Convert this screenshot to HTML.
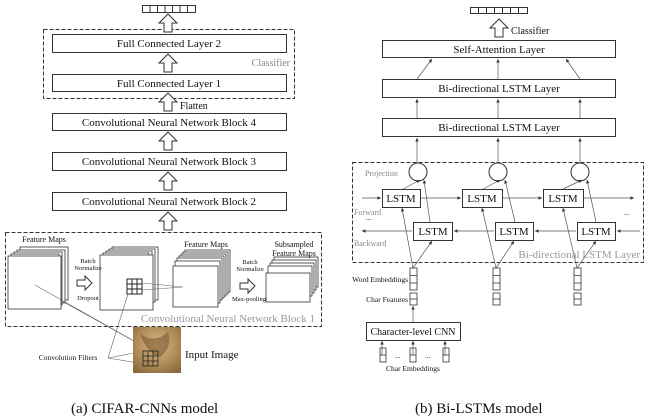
<!DOCTYPE html>
<html><head><meta charset="utf-8"><style>
html,body{margin:0;padding:0;background:#fff;}
svg{display:block;font-family:"Liberation Serif",serif;}
</style></head><body>
<svg width="650" height="420" viewBox="0 0 650 420" xmlns="http://www.w3.org/2000/svg">
<defs>
<marker id="ah" markerWidth="6" markerHeight="6" refX="5" refY="3" orient="auto"><path d="M0,0.5 L5,3 L0,5.5z" fill="#333"/></marker>
<g id="hup"><path d="M-4,9 L-4,0 L-9,0 L0,-9 L9,0 L4,0 L4,9z" fill="#fff" stroke="#333" stroke-width="1"/></g>
<g id="hright"><path d="M-8,-3 L0,-3 L0,-7 L7,0 L0,7 L0,3 L-8,3z" fill="#fff" stroke="#333" stroke-width="1"/></g>
<radialGradient id="img" cx="50%" cy="40%" r="70%"><stop offset="0" stop-color="#d8b88a"/><stop offset="0.6" stop-color="#b08c58"/><stop offset="1" stop-color="#8a6a3a"/></radialGradient>
</defs>
<g fill="none" stroke="#333" stroke-width="1">
<!-- LEFT -->
<g>
<rect x="142.5" y="5.5" width="53" height="7"/>
<path d="M150,5.5v7M157.5,5.5v7M165,5.5v7M172.5,5.5v7M180,5.5v7M187.5,5.5v7"/>
</g>
<rect x="43.5" y="29.5" width="251" height="69" stroke-dasharray="4,2"/>
<rect x="52.5" y="34.5" width="234" height="18"/>
<rect x="52.5" y="74.5" width="234" height="17"/>
<rect x="52.5" y="113.5" width="234" height="17"/>
<rect x="52.5" y="152.5" width="234" height="18"/>
<rect x="52.5" y="192.5" width="234" height="18"/>
<rect x="5.5" y="232.5" width="316" height="94" stroke-dasharray="4,2"/>
</g>
<use href="#hup" x="168" y="23"/>
<use href="#hup" x="168" y="63"/>
<use href="#hup" x="168" y="102"/>
<use href="#hup" x="168" y="141"/>
<use href="#hup" x="168" y="181"/>
<use href="#hup" x="168" y="221"/>
<g font-size="11" fill="#111" text-anchor="middle">
<text x="169" y="47">Full Connected Layer 2</text>
<text x="169" y="87">Full Connected Layer 1</text>
<text x="169" y="126">Convolutional Neural Network Block 4</text>
<text x="169" y="165">Convolutional Neural Network Block 3</text>
<text x="169" y="205">Convolutional Neural Network Block 2</text>
</g>
<text x="290" y="66" font-size="10" fill="#888" text-anchor="end">Classifier</text>
<text x="180" y="109" font-size="10" fill="#111">Flatten</text>
<!-- stacks -->
<g fill="#fff" stroke="#333" stroke-width="0.8">
<rect x="20" y="247" width="48" height="53"/><rect x="17" y="250" width="48" height="53"/><rect x="14" y="252" width="48" height="53"/><rect x="11" y="254" width="48" height="53"/>
<rect x="8" y="256" width="53" height="53"/>
<rect x="112" y="247" width="46" height="53"/><rect x="109" y="249" width="46" height="53"/><rect x="106" y="251" width="46" height="53"/><rect x="103" y="253" width="46" height="53"/>
<rect x="100" y="255" width="53" height="55"/>
<rect x="185" y="250" width="45" height="42"/><rect x="183" y="252" width="45" height="42"/><rect x="181" y="254" width="45" height="42"/><rect x="179" y="256" width="45" height="42"/><rect x="177" y="258" width="45" height="42"/><rect x="175" y="261" width="45" height="42"/><rect x="173" y="266" width="45" height="41"/>
<rect x="274" y="257" width="44" height="30"/><rect x="272" y="260" width="44" height="30"/><rect x="270" y="263" width="44" height="30"/><rect x="268" y="266" width="44" height="30"/><rect x="266" y="273" width="44" height="29"/>
</g>
<g stroke="#222" stroke-width="1" fill="none">
<rect x="127" y="279" width="15" height="15"/><path d="M132,279v15M137,279v15M127,284h15M127,289h15"/>
</g>
<g stroke="#666" stroke-width="0.6" fill="none">
<path d="M142,283 L183,287 M142,290 L183,287"/>
<path d="M35,285 L150,350 M60,300 L150,350 M108,358 L150,350 M108,358 L128,294 M108,358 L150,365"/>
</g>
<use href="#hright" x="85" y="283"/>
<use href="#hright" x="248" y="286"/>
<g font-size="8" fill="#111" text-anchor="middle">
<text x="44" y="242">Feature Maps</text>
<text x="88" y="263" font-size="6.5">Batch</text><text x="88" y="270" font-size="6.5">Normalize</text>
<text x="88" y="300" font-size="6.5">Dropout</text>
<text x="206" y="247">Feature Maps</text>
<text x="250" y="264" font-size="6.5">Batch</text><text x="250" y="271" font-size="6.5">Normalize</text>
<text x="249" y="301" font-size="6.5">Max-pooling</text>
<text x="294" y="247">Subsampled</text><text x="294" y="256">Feature Maps</text>
<text x="68" y="360" font-size="7.5">Convolution Filters</text>
</g>
<text x="315" y="322" font-size="11" fill="#999" text-anchor="end">Convolutional Neural Network Block 1</text>
<rect x="133" y="327" width="48" height="46" fill="url(#img)"/>
<path d="M140,334 q15,10 28,-2 q5,15 -8,25 q-12,-2 -20,-23z" fill="#7a5a30" opacity="0.6"/>
<g stroke="#222" stroke-width="0.8" fill="none"><rect x="143" y="351" width="15" height="15"/><path d="M148,351v15M153,351v15M143,356h15M143,361h15"/></g>
<text x="185" y="358" font-size="11" fill="#111">Input Image</text>
<!-- RIGHT -->
<g fill="none" stroke="#333" stroke-width="1">
<rect x="470.5" y="7.5" width="57" height="6"/>
<path d="M478.5,7.5v6M486.5,7.5v6M494.5,7.5v6M502.5,7.5v6M510.5,7.5v6M518.5,7.5v6"/>
<rect x="382.5" y="40.5" width="233" height="17"/>
<rect x="382.5" y="79.5" width="233" height="18"/>
<rect x="382.5" y="118.5" width="233" height="18"/>
<rect x="352.5" y="162.5" width="291" height="100" stroke-dasharray="4,2"/>
<circle cx="418" cy="172" r="9"/><circle cx="498" cy="172" r="9"/><circle cx="580" cy="172" r="9"/>
<rect x="382.5" y="189.5" width="38" height="18"/><rect x="462.5" y="189.5" width="40" height="18"/><rect x="543.5" y="189.5" width="40" height="18"/>
<rect x="413.5" y="222.5" width="39" height="18"/><rect x="495.5" y="222.5" width="38" height="18"/><rect x="577.5" y="222.5" width="38" height="18"/>
<rect x="366.5" y="322.5" width="94" height="18"/>
</g>
<use href="#hup" x="499" y="28"/>
<g stroke="#555" stroke-width="0.7" fill="none" marker-end="url(#ah)">
<path d="M417,79 L432,59"/><path d="M498,79 V59"/><path d="M580,79 L566,59"/>
<path d="M417,118 V99"/><path d="M498,118 V99"/><path d="M580,118 V99"/>
<path d="M417,163 V138"/><path d="M498,163 V138"/><path d="M580,163 V138"/>
<path d="M362,198 H381"/><path d="M421,198 H461"/><path d="M503,198 H542"/><path d="M584,198 H634"/>
<path d="M640,231 H617"/><path d="M576,231 H535"/><path d="M494,231 H454"/><path d="M412,231 H362"/>
<path d="M403,189 L420,180"/><path d="M430,222 L424,180"/>
<path d="M483,189 L500,180"/><path d="M515,222 L505,180"/>
<path d="M563,189 L582,180"/><path d="M596,222 L587,180"/>
<path d="M413,268 L402,208"/><path d="M413,268 L432,241"/>
<path d="M496,268 L482,208"/><path d="M496,268 L514,241"/>
<path d="M577,268 L563,208"/><path d="M577,268 L596,241"/>
<path d="M413,322 V306"/>
<path d="M382,355 V341"/><path d="M413,355 V341"/><path d="M445,355 V341"/>
</g>
<g fill="none" stroke="#333" stroke-width="0.8">
<rect x="410" y="268" width="7" height="22"/><path d="M410,275.5h7M410,283h7"/><rect x="410" y="293" width="7" height="12"/><path d="M410,299h7"/>
<rect x="493" y="268" width="7" height="22"/><path d="M493,275.5h7M493,283h7"/><rect x="493" y="293" width="7" height="12"/><path d="M493,299h7"/>
<rect x="574" y="268" width="7" height="22"/><path d="M574,275.5h7M574,283h7"/><rect x="574" y="293" width="7" height="12"/><path d="M574,299h7"/>
<rect x="380" y="348" width="6" height="14"/><path d="M380,355h6"/>
<rect x="410" y="348" width="6" height="14"/><path d="M410,355h6"/>
<rect x="443" y="348" width="6" height="14"/><path d="M443,355h6"/>
</g>
<g font-size="11" fill="#111" text-anchor="middle">
<text x="499" y="53">Self-Attention Layer</text>
<text x="499" y="92">Bi-directional LSTM Layer</text>
<text x="499" y="131">Bi-directional LSTM Layer</text>
<text x="401" y="202">LSTM</text><text x="482" y="202">LSTM</text><text x="563" y="202">LSTM</text>
<text x="433" y="235">LSTM</text><text x="514" y="235">LSTM</text><text x="596" y="235">LSTM</text>
<text x="413" y="335" font-size="10">Character-level CNN</text>
</g>
<text x="511" y="34" font-size="10" fill="#111">Classifier</text>
<g font-size="8" fill="#888">
<text x="365" y="176">Projection</text>
<text x="354" y="215">Forward</text>
<text x="354" y="246">Backward</text>
</g>
<text x="640" y="258" font-size="11" fill="#999" text-anchor="end">Bi-directional LSTM Layer</text>
<g font-size="7.5" fill="#111">
<text x="408" y="282" text-anchor="end">Word Embeddings</text>
<text x="408" y="302" text-anchor="end">Char Features</text>
<text x="413" y="371" text-anchor="middle">Char Embeddings</text>
<text x="366" y="220">...</text><text x="624" y="215">...</text>
<text x="395" y="358">...</text><text x="425" y="358">...</text>
</g>
<g font-size="15" fill="#111">
<text x="71" y="413">(a)  CIFAR-CNNs model</text>
<text x="415" y="413">(b)  Bi-LSTMs model</text>
</g>
</svg>
</body></html>
